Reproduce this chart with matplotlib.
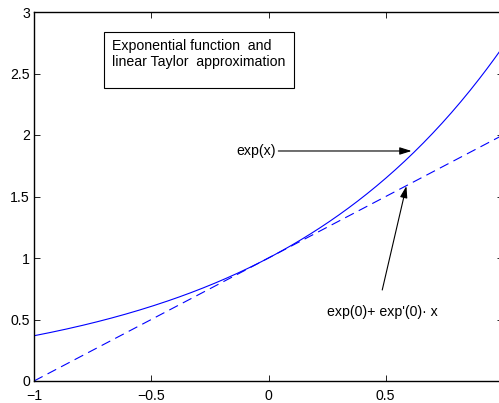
import numpy as np
import matplotlib
matplotlib.use("Agg")
import matplotlib.pyplot as plt
from matplotlib.patches import Rectangle
from matplotlib.ticker import FuncFormatter

plt.rcParams['font.family'] = ['Liberation Sans', 'DejaVu Sans']
plt.rcParams['axes.unicode_minus'] = True
plt.rcParams['lines.scale_dashes'] = False

# data
x = np.linspace(-1, 1, 201)
y_exp = np.exp(x)
y_lin = 1 + x
xticks = [-1, -0.5, 0, 0.5]
yticks = [0, 0.5, 1, 1.5, 2, 2.5, 3]
box_lines = ["Exponential function  and", "linear Taylor  approximation"]
label_exp = "exp(x)"
label_lin = "exp(0)+ exp'(0)\u00b7 x"

FS = 10.2

fig = plt.figure(figsize=(4.99, 4.03), dpi=100)
ax = fig.add_axes([34/499, 1-381/403, (503-34)/499, (381-12)/403])

ax.plot(x, y_exp, color=(0, 0, 1), lw=0.8)
ax.plot(x, y_lin, color=(0, 0, 1), lw=0.8, dashes=(7, 4))

ax.set_xlim(-1, 1)
ax.set_ylim(0, 3)
ax.set_xticks(xticks)
ax.set_yticks(yticks)
fmt = FuncFormatter(lambda v, p: ('%g' % v).replace('-', '\u2212'))
ax.xaxis.set_major_formatter(fmt)
ax.yaxis.set_major_formatter(fmt)
ax.tick_params(direction='in', length=4, width=0.6, top=True, right=True,
               labelsize=FS, colors='black')
ax.tick_params(axis='x', pad=5.5)
ax.tick_params(axis='y', pad=3)
for s in ax.spines.values():
    s.set_linewidth(1.0)

# text box
ax.add_patch(Rectangle((-0.702, 2.385), 0.812, 0.455, fill=False,
                       edgecolor='black', lw=0.8))
ax.text(-0.668, 2.72, box_lines[0], fontsize=FS, va='center', ha='left')
ax.text(-0.668, 2.59, box_lines[1], fontsize=FS, va='center', ha='left')

arrowprops = dict(arrowstyle='-|>,head_length=0.7,head_width=0.22',
                  color='black', lw=0.8, shrinkA=0, shrinkB=0)
ax.annotate(label_exp, xy=(0.61, 1.87), xytext=(0.03, 1.87),
            fontsize=FS, ha='right', va='center', arrowprops=arrowprops)
ax.annotate('', xy=(0.588, 1.585), xytext=(0.485, 0.74),
            arrowprops=arrowprops)
ax.text(0.485, 0.56, label_lin, fontsize=FS, ha='center', va='center')

fig.savefig("out.png", dpi=100)
